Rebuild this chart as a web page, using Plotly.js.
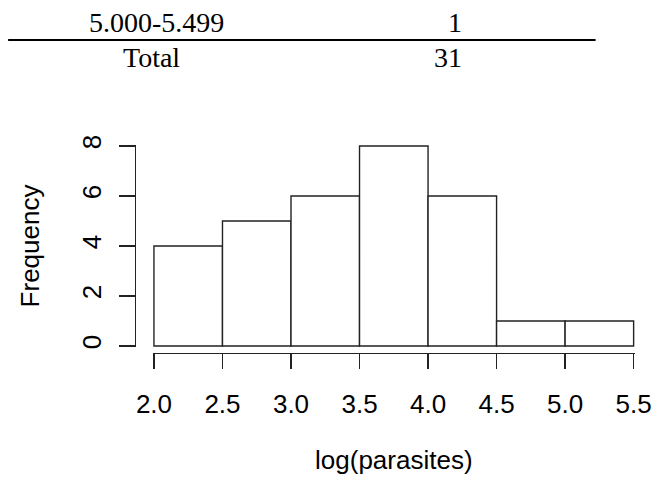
<!DOCTYPE html>
<html>
<head>
<meta charset="utf-8">
<script src="https://cdn.plot.ly/plotly-3.0.1.min.js"></script>
<style>html,body{margin:0;padding:0;background:#fff;}#chart{width:654px;height:480px;}</style>
</head>
<body>
<div id="chart"></div>
<script>
// ---- data ----
const binStarts = [2.0, 2.5, 3.0, 3.5, 4.0, 4.5, 5.0];
const binWidth = 0.5;
const counts = [4, 5, 6, 8, 6, 1, 1];
const xTickVals = [2.0, 2.5, 3.0, 3.5, 4.0, 4.5, 5.0, 5.5];
const xTickText = ["2.0", "2.5", "3.0", "3.5", "4.0", "4.5", "5.0", "5.5"];
const yTickVals = [0, 2, 4, 6, 8];
const yTickText = ["0", "2", "4", "6", "8"];
const tableLabels = ["5.000-5.499", "Total"];
const tableCounts = ["1", "31"];
const xTitle = "log(parasites)";
const yTitle = "Frequency";

// ---- geometry (pixels) ----
const W = 654, H = 480;
const padL = 135, padR = 635.4, padT = 145, padB = 353;
const xDomL = 152.6, yDomB = 347;
const pw = padR - padL, ph = padB - padT;
const fx = px => (px - padL) / pw;
const fy = py => 1 - (py - padT) / ph;

const sans = "Liberation Sans, Arial, sans-serif";
const serif = "Liberation Serif, Times New Roman, serif";
const ink = "#222";

const trace = {
  type: "bar",
  x: binStarts,
  y: counts,
  width: binStarts.map(() => binWidth),
  offset: 0,
  marker: {color: "#ffffff", line: {color: ink, width: 1.4}},
  hoverinfo: "skip"
};

const rowY = [23, 58];
const annotations = [];
tableLabels.forEach((t, i) => {
  annotations.push({xref: "paper", yref: "paper", x: fx([157, 152][i]), y: fy(rowY[i]),
    xanchor: "center", yanchor: "middle", text: t, showarrow: false,
    font: {family: serif, size: 28, color: "#000"}});
  annotations.push({xref: "paper", yref: "paper", x: fx(464), y: fy(rowY[i]),
    xanchor: "right", yanchor: "middle", text: tableCounts[i], showarrow: false,
    font: {family: serif, size: 28, color: "#000"}});
});

const layout = {
  width: W, height: H,
  margin: {l: padL, r: W - padR, t: padT, b: H - padB, pad: 0},
  paper_bgcolor: "#fff", plot_bgcolor: "#fff",
  showlegend: false,
  bargap: 0,
  xaxis: {
    domain: [fx(xDomL), 1], anchor: "free", position: 0,
    range: [1.99, 5.51], tickvals: xTickVals, ticktext: xTickText,
    showgrid: false, zeroline: false, showline: true, linecolor: ink, linewidth: 1.4,
    ticks: "outside", ticklen: 15, tickwidth: 1.4, tickcolor: ink,
    tickfont: {family: sans, size: 26, color: "#000"}, ticklabelstandoff: 12,
    title: {text: xTitle, font: {family: sans, size: 26, color: "#000"}, standoff: 33},
    automargin: false, fixedrange: true
  },
  yaxis: {
    domain: [fy(yDomB), 1], anchor: "free", position: 0,
    range: [-0.04, 8.04], tickvals: yTickVals, ticktext: yTickText, tickangle: -90,
    showgrid: false, zeroline: false, showline: true, linecolor: ink, linewidth: 1.4,
    ticks: "outside", ticklen: 16, tickwidth: 1.4, tickcolor: ink,
    tickfont: {family: sans, size: 26, color: "#000"}, ticklabelstandoff: 8,
    title: {text: yTitle, font: {family: sans, size: 26, color: "#000"}, standoff: 28},
    automargin: false, fixedrange: true
  },
  shapes: [{type: "line", xref: "paper", yref: "paper", x0: fx(8), x1: fx(596), y0: fy(40), y1: fy(40),
    line: {color: "#000", width: 2.2}}],
  annotations: annotations
};

Plotly.newPlot("chart", [trace], layout, {displayModeBar: false, staticPlot: true});
</script>
</body>
</html>
